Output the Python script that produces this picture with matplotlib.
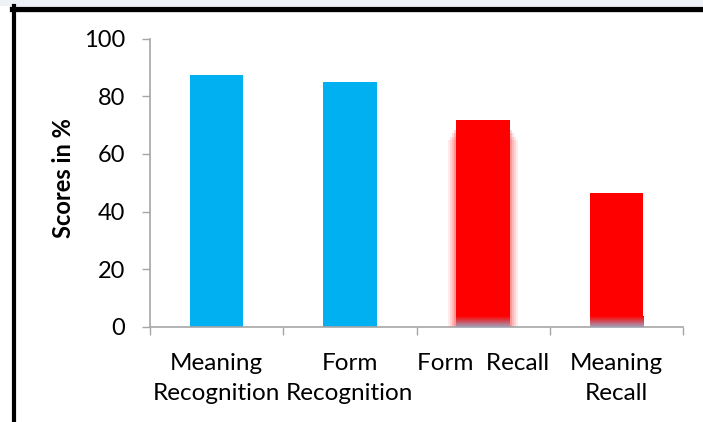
import numpy as np
import matplotlib
matplotlib.use("Agg")
import matplotlib.pyplot as plt
from matplotlib.lines import Line2D
from matplotlib.patches import Rectangle
from matplotlib.colors import LinearSegmentedColormap

# Data
categories = ["Meaning\nRecognition", "Form\nRecognition", "Form  Recall", "Meaning\nRecall"]
scores = [87.4, 85.0, 71.7, 46.4]
bar_colors = ["#00B0F0", "#00B0F0", "#FF0000", "#FF0000"]
glow = [False, False, True, False]
y_ticks = [0, 20, 40, 60, 80, 100]

plt.rcParams["font.family"] = ["Lato", "DejaVu Sans"]

fig = plt.figure(figsize=(7.03, 4.22), dpi=100)
ax = fig.add_axes([150 / 703, 1 - 326.7 / 422, 533 / 703, 288 / 422])

x = np.arange(len(categories))
width = 0.4

# soft glow around the highlighted bar
for xi, val, g in zip(x, scores, glow):
    if g:
        for i, (k, a) in enumerate(zip([0.12, 0.09, 0.06, 0.03], [0.08, 0.10, 0.13, 0.18])):
            ax.bar(xi, val - 7 + i * 1.2, width=width + k, color="#FF0000", alpha=a,
                   linewidth=0, zorder=1)

ax.bar(x, scores, width=width, color=bar_colors, linewidth=0, zorder=2)

# grey-ish fade at the foot of the red bars
fade = LinearSegmentedColormap.from_list("fade", ["#A0A2BC", "#FF0000"])
grad = np.linspace(0, 1, 50).reshape(-1, 1)
for xi, col in zip(x, bar_colors):
    if col == "#FF0000":
        ax.imshow(grad, cmap=fade, origin="lower", aspect="auto",
                  extent=(xi - width / 2, xi + width / 2, 0, 3.5), zorder=3)

ax.set_xlim(-0.5, len(categories) - 0.5)
ax.set_ylim(0, 100)
ax.set_yticks(y_ticks)
ax.set_xticks(x)
ax.set_xticklabels(categories, fontsize=17.5, linespacing=1.5)
ax.set_xticks(np.arange(len(categories) + 1) - 0.5, minor=True)
ax.tick_params(axis="x", which="major", length=0, pad=19)
ax.tick_params(axis="x", which="minor", length=6, color="#A6A6A6", width=1)
ax.tick_params(axis="y", labelsize=17, length=6, color="#A6A6A6", width=1, pad=12)

for side in ["top", "right"]:
    ax.spines[side].set_visible(False)
for side in ["left", "bottom"]:
    ax.spines[side].set_color("#A6A6A6")
    ax.spines[side].set_linewidth(1.2)

ax.set_ylabel("Scores in %", fontsize=17, fontweight="bold")
ax.yaxis.set_label_coords(-0.14, 0.515)

# pale strip above the frame, then black frame on top and left
fig.add_artist(Rectangle((0, 1 - 6 / 422), 1, 6 / 422, color="#EEF2F6",
                         transform=fig.transFigure, linewidth=0))
fig.add_artist(Line2D([12 / 703, 1], [1 - 8.5 / 422] * 2, color="black", linewidth=3.8,
                      transform=fig.transFigure))
fig.add_artist(Line2D([14 / 703] * 2, [0, 1 - 6 / 422], color="black", linewidth=3.0,
                      transform=fig.transFigure))

fig.savefig("out.png", dpi=100)
